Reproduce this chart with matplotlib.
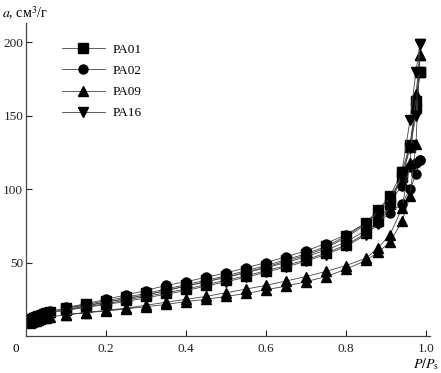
import matplotlib
matplotlib.use('Agg')
import matplotlib.pyplot as plt

plt.rcParams['font.family'] = ['Liberation Serif', 'DejaVu Serif']
plt.rcParams['mathtext.fontset'] = 'stix'

# relative pressure, adsorption branch
p_ads = [0.010, 0.015, 0.020, 0.025, 0.030, 0.035, 0.040, 0.045, 0.050, 0.055, 0.060,
         0.10, 0.15, 0.20, 0.25, 0.30, 0.35, 0.40, 0.45, 0.50, 0.55, 0.60, 0.65,
         0.70, 0.75, 0.80, 0.85, 0.88, 0.91, 0.94, 0.96, 0.975, 0.985]
# relative pressure, desorption branch
p_des = [0.985, 0.975, 0.96, 0.94, 0.91, 0.88, 0.85, 0.80, 0.75, 0.70, 0.65,
         0.60, 0.55, 0.50, 0.45, 0.40, 0.35, 0.30, 0.25, 0.20, 0.15, 0.10]

pa01_ads = [10.5, 11.5, 12.5, 13.0, 13.5, 14.0, 14.5, 15.0, 15.5, 16.0, 16.5,
            18.0, 20.0, 22.0, 24.5, 27.0, 29.5, 32.0, 35.0, 38.0, 41.0, 44.5, 48.0,
            52.0, 56.5, 62.0, 70.0, 78.0, 90.0, 108.0, 129.0, 155.0, 180.0]
pa01_des = [180.0, 160.0, 130.0, 112.0, 95.0, 86.0, 77.0, 68.0, 61.0, 56.0, 52.0,
            48.0, 44.5, 41.0, 38.0, 35.0, 32.0, 29.0, 26.5, 24.0, 21.5, 19.0]

pa02_ads = [11.5, 12.5, 13.0, 13.5, 14.0, 14.5, 15.0, 15.5, 16.0, 16.5, 17.0,
            19.0, 21.0, 23.0, 25.5, 28.0, 31.0, 34.0, 37.0, 40.0, 43.0, 46.5, 50.0,
            54.0, 58.5, 64.0, 72.0, 77.0, 84.0, 90.0, 100.0, 110.0, 120.0]
pa02_des = [120.0, 118.0, 115.0, 102.0, 92.0, 84.0, 77.0, 69.0, 63.0, 58.0, 54.0,
            50.0, 46.5, 43.0, 40.0, 37.0, 34.5, 31.0, 28.0, 25.0, 22.0, 19.5]

pa09_ads = [9.0, 9.5, 10.0, 10.5, 11.0, 11.5, 12.0, 12.0, 12.5, 13.0, 13.0,
            14.5, 16.0, 17.0, 18.5, 20.0, 21.5, 23.5, 25.0, 27.0, 29.0, 31.5, 34.0,
            37.0, 40.5, 45.5, 51.5, 57.0, 64.0, 78.0, 95.0, 131.0, 191.0]
pa09_des = [191.0, 165.0, 118.0, 87.0, 69.0, 60.0, 53.0, 48.0, 44.0, 40.5, 37.5,
            34.5, 32.0, 29.5, 27.0, 25.0, 23.0, 21.0, 19.0, 17.5, 16.0, 14.5]

pa16_ads = [10.0, 11.0, 12.0, 12.5, 13.0, 13.5, 14.0, 14.5, 15.0, 15.5, 16.0,
            17.5, 19.5, 21.5, 23.5, 26.0, 28.5, 31.0, 34.0, 37.0, 40.0, 43.5, 47.0,
            51.0, 55.5, 61.0, 69.0, 76.0, 88.0, 112.0, 147.0, 180.0, 199.0]
pa16_des = [199.0, 150.0, 128.0, 108.0, 94.0, 85.0, 76.0, 67.0, 60.0, 55.0, 51.0,
            47.0, 43.5, 40.0, 37.0, 34.0, 31.0, 28.0, 25.5, 23.0, 20.5, 18.0]

labels = ['PA01', 'PA02', 'PA09', 'PA16']
markers = ['s', 'o', '^', 'v']
series = [(pa01_ads, pa01_des), (pa02_ads, pa02_des),
          (pa09_ads, pa09_des), (pa16_ads, pa16_des)]

fig = plt.figure(figsize=(4.41, 3.73), dpi=100)
ax = fig.add_axes([0.059, 0.099, 0.916, 0.839])

for (ads, des), m, lab in zip(series, markers, labels):
    ax.plot(p_ads + p_des, ads + des, color='#444444', lw=0.6,
            marker=m, ms=6.5, mfc='black', mec='black', label=lab)

ax.set_xlim(0, 1.01)
ax.set_ylim(0, 213)
ax.set_xticks([0.2, 0.4, 0.6, 0.8, 1.0])
ax.set_xticklabels(['0.2', '0.4', '0.6', '0.8', '1.0'])
ax.set_yticks([50, 100, 150, 200])
ax.tick_params(direction='in', length=4, width=0.8, labelsize=9.5,
               colors='#222222')
ax.tick_params(axis='x', pad=5)
ax.tick_params(axis='y', pad=2)
for s in ['top', 'right']:
    ax.spines[s].set_visible(False)
for s in ['left', 'bottom']:
    ax.spines[s].set_color('#444444')
    ax.spines[s].set_linewidth(0.9)

fig.text(16 / 441, 1 - 349 / 373, '0', ha='center', va='center', fontsize=9.5)
fig.text(0.004, 0.965, '$a$, см$^3$/г', ha='left', va='center', fontsize=10)
fig.text(0.997, 0.025, '$P/P_{\\mathrm{s}}$', ha='right', va='center', fontsize=10)

ax.legend(loc='upper left', bbox_to_anchor=(0.09, 0.935), frameon=False,
          handlelength=3.2, labelspacing=0.68, borderpad=0, borderaxespad=0,
          handletextpad=0.6, fontsize=9.5)

fig.savefig('out.png', dpi=100)
